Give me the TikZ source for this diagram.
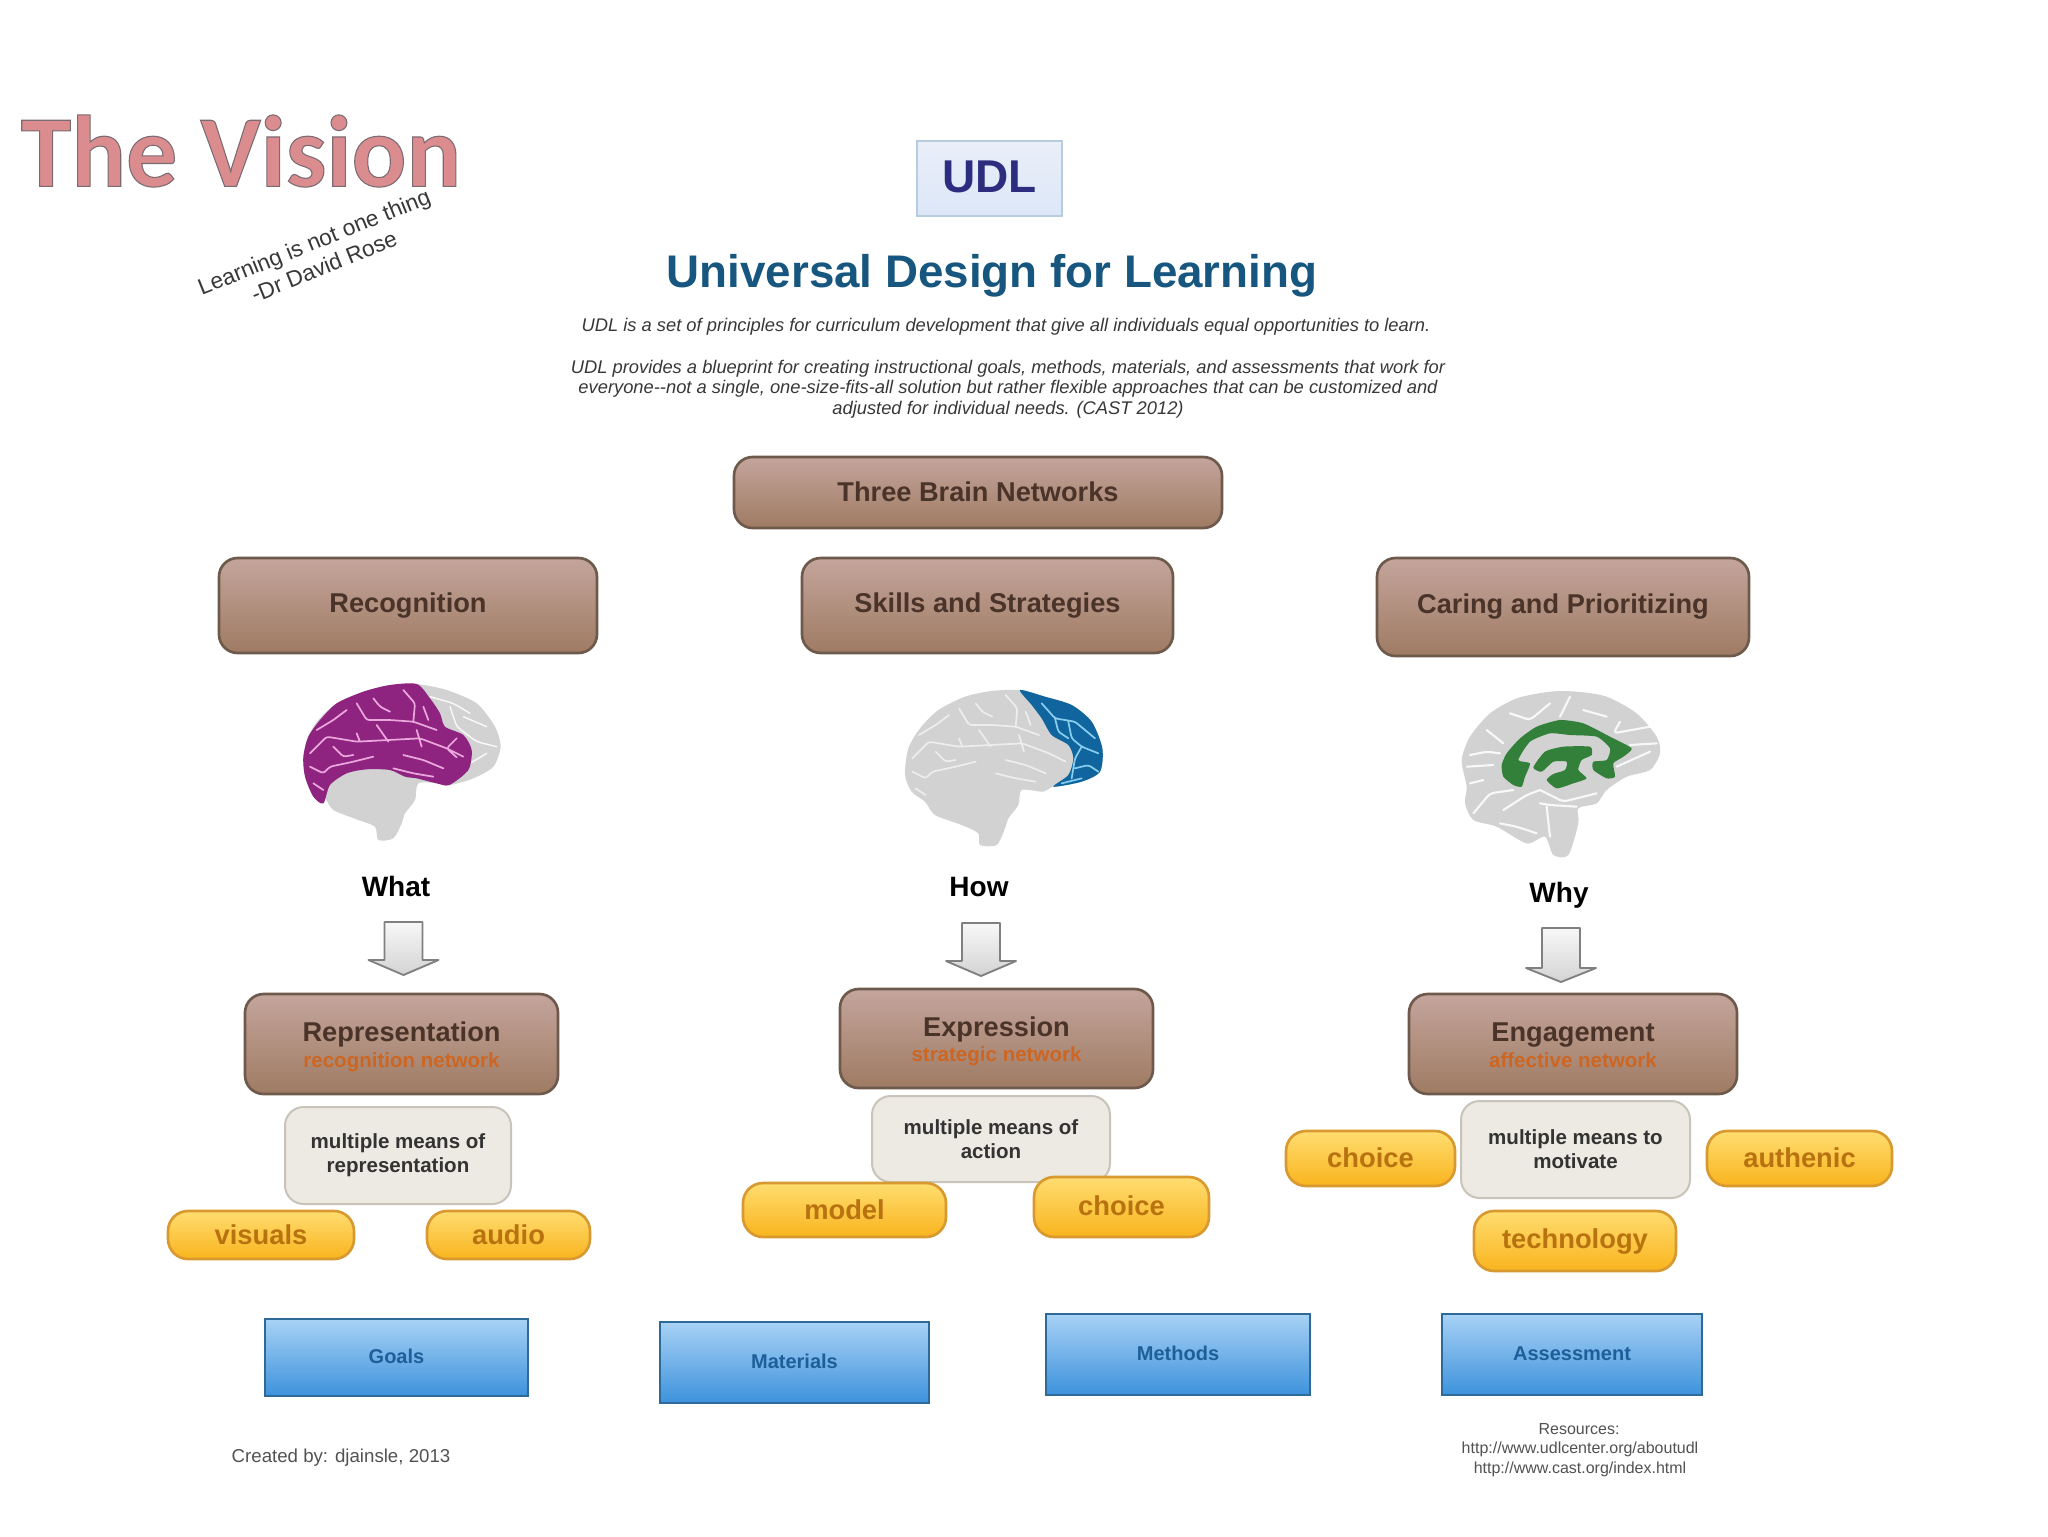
\documentclass[tikz,border=0pt]{standalone}
\usepackage{fontspec}
\setmainfont{Liberation Sans}
\newfontfamily\carlito{Carlito}
\definecolor{brownT}{HTML}{C4A59C}
\definecolor{brownB}{HTML}{9F7B63}
\definecolor{brownE}{HTML}{6E5A4C}
\definecolor{brownX}{HTML}{4A3328}
\definecolor{subO}{HTML}{CC6622}
\definecolor{pillT}{HTML}{FFDD70}
\definecolor{pillB}{HTML}{F9B41E}
\definecolor{pillE}{HTML}{D89A30}
\definecolor{pillX}{HTML}{B8720F}
\definecolor{blueT}{HTML}{A8D2F5}
\definecolor{blueB}{HTML}{3D92DC}
\definecolor{blueE}{HTML}{2E6A97}
\definecolor{blueX}{HTML}{1F5F99}
\definecolor{brGray}{HTML}{D2D2D2}
\definecolor{visionC}{HTML}{DB8C8F}
\definecolor{udlX}{HTML}{2D2D7F}
\definecolor{titleX}{HTML}{16567F}
\definecolor{beigeF}{HTML}{EDE9E3}
\definecolor{beigeE}{HTML}{C9C4BA}
\definecolor{magentaB}{HTML}{8E2380}
\definecolor{pinkV}{HTML}{EBA6DC}
\definecolor{blueBr}{HTML}{11659F}
\definecolor{blueV}{HTML}{86CDEE}
\definecolor{greenBr}{HTML}{33803A}
\definecolor{udlT}{HTML}{EAEFF8}
\definecolor{udlB}{HTML}{DCE7F8}
\definecolor{udlE}{HTML}{B8CCE0}
\tikzset{
  sz/.style n args={2}{minimum width=#1*0.75pt,minimum height=#2*0.75pt,inner sep=0pt,align=center},
  brownbox/.style={draw=brownE,line width=2pt,top color=brownT,bottom color=brownB,rounded corners=14pt,text=brownX,font=\bfseries\fontsize{20.4}{24}\selectfont},
  beigebox/.style={draw=beigeE,line width=1.5pt,fill=beigeF,rounded corners=14pt,text=black!80,font=\bfseries\fontsize{15.4}{18}\selectfont},
  pill/.style={draw=pillE,line width=2pt,top color=pillT,bottom color=pillB,rounded corners=15pt,text=pillX,font=\bfseries\fontsize{20.5}{24}\selectfont},
  bluebox/.style={draw=blueE,line width=1.6pt,top color=blueT,bottom color=blueB,text=blueX,font=\bfseries\fontsize{15}{18}\selectfont},
  bodyline/.style={inner sep=0pt,text=black!78,font=\itshape\fontsize{13.75}{17}\selectfont},
  smalltext/.style={inner sep=0pt,text=black!68,font=\fontsize{14}{15}\selectfont},
  restext/.style={smalltext,font=\fontsize{12}{15}\selectfont},
  wword/.style={inner sep=0pt,text=black,font=\bfseries\fontsize{21}{24}\selectfont},
  hollow/.style={draw=black!50,line width=1.4pt,line join=round,top color=black!3,bottom color=black!17},
  vein/.style={line width=1.3pt,line join=round,line cap=round,rounded corners=2pt},
  sulcus/.style={draw=white,line width=1.6pt,line join=round,line cap=round,rounded corners=3pt,opacity=.85},
  brainpath/.style={smooth cycle,tension=.45}
}
\newcommand\dnarrow[4]{\path[hollow] ({#1-19},#2) -- ({#1+19},#2) -- ({#1+19},#3) -- ({#1+35},#3) -- (#1,#4) -- ({#1-35},#3) -- ({#1-19},#3) -- cycle;}
\newcommand\subline[1]{{\color{subO}\fontsize{15.4}{16}\selectfont\rule[-3.4pt]{0pt}{1pt}#1}}
\newcommand\twoline[2]{\rule{0pt}{19pt}#1\\[-5pt]\subline{#2}}
\newcommand\cortexveins{%
  (60,250)--(110,200)--(200,215)--(295,210)--(390,205)--(470,235)--(520,260)
  (80,180)--(130,150)--(170,120)
  (130,230)--(160,260)--(190,255)
  (60,290)--(100,310)--(120,290)--(190,275)--(250,260)
  (200,100)--(230,150)--(300,150)--(370,155)--(440,180)
  (250,85)--(270,110)--(300,125)
  (370,155)--(375,100)--(340,60)
  (260,165)--(295,215)
  (200,190)--(210,215)
  (400,110)--(415,150)
  (340,255)--(400,270)--(460,295)
  (310,295)--(370,310)--(430,320)
  (380,180)--(395,230)
  (70,340)--(100,360)}
\begin{document}
\begin{tikzpicture}[x=0.75pt,y=-0.75pt]
\useasboundingbox[fill=white] (0,0) rectangle (2048,1536);
% heading
\node[inner sep=0pt,text=visionC,font=\carlito\bfseries\fontsize{76.5}{90}\selectfont] (vision) at (241,151) {\special{pdf:code 2 Tr 0.8 w 0.48 0.42 0.45 RG}The Vision\special{pdf:code 0 Tr}};
\node[inner sep=0pt,rotate=22,align=center,text=black!78,font=\fontsize{17}{20}\selectfont] (quote) at (319,254) {Learning is not one thing\\-Dr David Rose};
\node[sz={145}{75},draw=udlE,line width=1.5pt,top color=udlT,bottom color=udlB,text=udlX,font=\bfseries\fontsize{34.5}{40}\selectfont] (udl) at (989.5,178) {\raisebox{2pt}{UDL}};
\node[inner sep=0pt,text=titleX,font=\bfseries\fontsize{34.3}{38}\selectfont] (title) at (992,276) {Universal Design for Learning};
\node[bodyline] (p1) at (1006,327) {UDL is a set of principles for curriculum development that give all individuals equal opportunities to learn.};
\node[bodyline] (p2) at (1008,369) {UDL provides a blueprint for creating instructional goals, methods, materials, and assessments that work for};
\node[bodyline] (p3) at (1008,389) {everyone{-}{-}not a single, one-size-fits-all solution but rather flexible approaches that can be customized and};
\node[bodyline] (p4) at (1008,410) {adjusted for individual needs. (CAST 2012)};
% top boxes
\node[brownbox,sz={488}{71}] (tbn) at (978,492.5) {\raisebox{2pt}{Three Brain Networks}};
\node[brownbox,sz={378}{95}] (rec) at (408,605.5) {Recognition};
\node[brownbox,sz={371}{95}] (skl) at (987.5,605.5) {Skills and Strategies};
\node[brownbox,sz={372}{98}] (car) at (1563,607) {Caring and Prioritizing};
% brain 1 (coordinates of a 3x crop)
\begin{scope}[shift={(290,670)},x=0.25pt,y=-0.25pt]
  \fill[brGray] plot[brainpath] coordinates {(380,42)(470,60)(560,100)(615,170)(632,230)(610,290)(550,325)(480,345)(445,340)(385,340)(375,390)(345,430)(335,460)(310,505)(265,510)(255,470)(205,450)(130,420)(105,385)(90,400)(55,350)(40,280)(50,210)(85,150)(140,100)(220,65)(300,45)};
  \draw[sulcus,line width=1.1pt] (420,80)--(490,100)--(540,130) (480,110)--(500,170)--(560,215)--(620,230) (540,280)--(590,250) (520,140)--(590,170);
  \fill[magentaB] plot[brainpath] coordinates {(380,42)(420,85)(450,130)(465,170)(520,195)(545,240)(535,300)(478,345)(440,340)(380,325)(345,320)(300,300)(230,298)(170,310)(120,345)(100,400)(70,380)(45,320)(40,260)(55,200)(90,150)(140,100)(220,65)(300,45)};
  \draw[vein,pinkV] \cortexveins (500,205)--(470,235)--(500,262);
\end{scope}
% brain 2
\begin{scope}[shift={(895,675)},x=0.25pt,y=-0.25pt]
  \fill[brGray] plot[brainpath] coordinates {(375,45)(450,65)(530,90)(590,140)(622,220)(615,290)(560,320)(475,335)(445,350)(380,345)(370,390)(340,430)(330,460)(305,510)(255,510)(250,475)(200,450)(120,420)(90,380)(50,350)(30,300)(40,220)(75,160)(130,105)(210,65)(290,48)};
  \begin{scope}[xshift=-2pt]
  \draw[vein,draw=white,opacity=.6] \cortexveins;
  \end{scope}
  \fill[blueBr] plot[brainpath] coordinates {(375,45)(450,65)(530,90)(590,140)(622,220)(615,290)(560,320)(475,335)(520,300)(535,250)(520,210)(470,180)(440,130)(410,90)};
  \draw[vein,blueV] (440,85)--(480,130)--(540,140)--(600,190) (480,130)--(490,170)--(520,190) (520,140)--(530,190)--(560,215)--(610,235) (540,280)--(580,270)--(610,290) (560,215)--(540,250)--(530,310) (500,325)--(560,310);
\end{scope}
% brain 3
\begin{scope}[shift={(1450,680)},x=0.25pt,y=-0.25pt]
  \fill[brGray] plot[brainpath] coordinates {(300,35)(380,35)(470,50)(560,100)(620,170)(630,220)(600,270)(530,290)(470,330)(440,370)(385,385)(385,430)(355,525)(310,525)(285,470)(230,490)(140,440)(70,420)(45,370)(50,320)(35,240)(60,170)(120,100)(200,55)};
  \draw[sulcus] (60,225)--(110,215)--(150,220) (50,260)--(130,255) (110,150)--(160,190) (180,100)--(240,120)--(300,70) (330,110)--(360,50) (400,90)--(470,110) (510,125)--(490,160)--(600,140) (500,260)--(600,215) (540,195)--(620,190) (270,330)--(340,365)--(440,340) (160,390)--(230,345)--(270,330) (150,430)--(200,440)--(260,460) (270,370)--(300,375)--(380,380) (70,400)--(120,340)--(190,330) (290,380)--(300,470) (60,310)--(100,300);
  \fill[greenBr] plot[smooth cycle,tension=.35] coordinates {(155,255)(170,220)(210,175)(260,140)(330,120)(400,130)(480,170)(545,205)(520,230)(490,250)(495,290)(470,295)(430,270)(430,245)(470,240)(480,205)(440,170)(360,165)(300,160)(240,185)(205,240)(240,250)(225,290)(215,320)(190,315)(160,290)};
  \fill[greenBr] plot[smooth cycle,tension=.35] coordinates {(250,262)(285,215)(340,200)(420,200)(425,225)(395,240)(385,270)(410,295)(370,310)(320,325)(290,300)(310,282)(345,270)(350,245)(310,245)(275,275)};
\end{scope}
% question words and arrows
\node[wword] (what) at (396,886) {What};
\node[wword] (how) at (979,887) {How};
\node[wword] (why) at (1559,895) {Why};
\dnarrow{403.5}{922}{960}{975}
\dnarrow{981}{923}{961}{976}
\dnarrow{1561}{928}{968}{982}
% principle boxes
\node[brownbox,sz={313}{100}] (rep) at (401.5,1044) {\twoline{Representation}{recognition network}};
\node[brownbox,sz={313}{99}] (exp) at (996.5,1038.5) {\twoline{Expression}{strategic network}};
\node[brownbox,sz={328}{100}] (eng) at (1573,1044) {\twoline{Engagement}{affective network}};
\node[beigebox,sz={226}{97}] (mr) at (398,1155.5) {multiple means of\\representation};
\node[beigebox,sz={238}{86}] (ma) at (991,1139) {multiple means of\\action};
\node[beigebox,sz={229}{97}] (mm) at (1575.5,1149.5) {multiple means to\\motivate};
\node[pill,sz={186}{48}] (vis) at (261,1235) {\raisebox{1pt}{visuals}};
\node[pill,sz={163}{48}] (aud) at (508.5,1235) {\raisebox{1pt}{audio}};
\node[pill,sz={203}{54}] (mod) at (844.5,1210) {\raisebox{1pt}{model}};
\node[pill,sz={175}{60}] (cho) at (1121.5,1207) {\raisebox{2pt}{choice}};
\node[pill,sz={169}{55}] (chb) at (1370.5,1158.5) {\raisebox{1pt}{choice}};
\node[pill,sz={185}{55}] (aut) at (1799.5,1158.5) {\raisebox{1pt}{authenic}};
\node[pill,sz={202}{60}] (tec) at (1575,1241) {technology};
% bottom row
\node[bluebox,sz={263}{77}] (goa) at (396.5,1357.5) {\raisebox{2pt}{Goals}};
\node[bluebox,sz={269}{81}] (mat) at (794.5,1362.5) {\raisebox{2pt}{Materials}};
\node[bluebox,sz={264}{81}] (met) at (1178,1354.5) {\raisebox{2pt}{Methods}};
\node[bluebox,sz={260}{81}] (ass) at (1572,1354.5) {\raisebox{2pt}{Assessment}};
\node[smalltext] (cre) at (341,1458) {Created by: djainsle, 2013};
\node[restext] (res1) at (1579,1429) {Resources:};
\node[restext] (res2) at (1580,1449) {http://www.udlcenter.org/aboutudl};
\node[restext] (res3) at (1580,1469) {http://www.cast.org/index.html};
\end{tikzpicture}
\end{document}
